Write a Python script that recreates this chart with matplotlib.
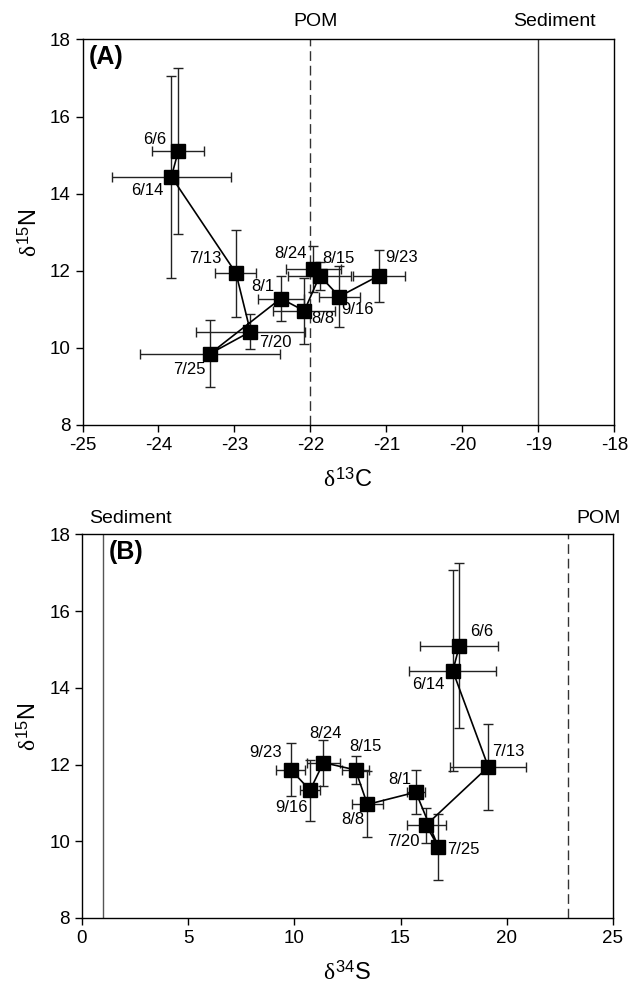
import matplotlib
matplotlib.use("Agg")
import matplotlib.pyplot as plt

plt.rcParams['font.family'] = ['Liberation Sans', 'DejaVu Sans']
plt.rcParams['mathtext.fontset'] = 'custom'
plt.rcParams['mathtext.rm'] = 'Liberation Sans'
plt.rcParams['mathtext.it'] = 'Liberation Serif'
plt.rcParams['axes.unicode_minus'] = False

# sampling dates
dates = ['6/6', '6/14', '7/13', '7/20', '7/25', '8/1', '8/8', '8/15', '8/24', '9/16', '9/23']

# isotope means and errors
d13c = [-23.74, -23.83, -22.98, -22.79, -23.32, -22.39, -22.08, -21.88, -21.96, -21.62, -21.10]
d13c_err = [0.34, 0.78, 0.27, 0.72, 0.92, 0.30, 0.41, 0.42, 0.36, 0.27, 0.34]
d15n = [15.10, 14.44, 11.94, 10.42, 9.85, 11.28, 10.96, 11.86, 12.05, 11.33, 11.87]
d15n_err = [2.15, 2.62, 1.13, 0.46, 0.87, 0.58, 0.86, 0.36, 0.60, 0.79, 0.68]
d34s = [17.77, 17.46, 19.13, 16.20, 16.78, 15.72, 13.44, 12.88, 11.37, 10.74, 9.83]
d34s_err = [1.84, 2.04, 1.79, 0.92, 0.20, 0.43, 0.74, 0.63, 0.78, 0.47, 0.67]

# end-member values
pom_c, sed_c = -22.0, -19.0
pom_s, sed_s = 22.9, 1.0

# label offsets in pixels (dx, dy)
offs_a = [(-24, 12), (-24, -14), (-31, 15), (25, -11), (-21, -16), (-18, 12),
          (18, -8), (19, 18), (-23, 15), (18, -13), (23, 18)]
offs_b = [(22, 14), (-25, -14), (20, 15), (-23, -16), (25, -2), (-16, 13),
          (-15, -15), (10, 23), (2, 29), (-19, -17), (-25, 17)]

fig = plt.figure(figsize=(6.3, 9.86), dpi=100)
axA = fig.add_axes([0.131, 0.569, 0.844, 0.391])
axB = fig.add_axes([0.130, 0.069, 0.843, 0.389])


def draw(ax, x, xerr, offs):
    ax.errorbar(x, d15n, xerr=xerr, yerr=d15n_err, fmt='none', ecolor='#222222',
                elinewidth=1.0, capsize=3.8, capthick=1.0, zorder=2)
    ax.plot(x, d15n, color='black', lw=1.2, marker='s', ms=9.5,
            mfc='black', mec='black', zorder=3)
    for xi, yi, lab, (dx, dy) in zip(x, d15n, dates, offs):
        ax.annotate(lab, (xi, yi), xytext=(dx, dy), textcoords='offset pixels',
                    ha='center', va='center', fontsize=12)
    ax.set_ylim(8, 18)
    ax.set_yticks([8, 10, 12, 14, 16, 18])
    ax.tick_params(labelsize=13.5, length=5, width=1, direction='out',
                   top=False, right=False)
    ax.set_ylabel(r'$\delta^{\mathrm{15}}$N', fontsize=17, labelpad=6)
    for s in ax.spines.values():
        s.set_linewidth(1.0)


# panel A
draw(axA, d13c, d13c_err, offs_a)
axA.set_xlim(-25, -18)
axA.set_xticks(range(-25, -17))
axA.axvline(pom_c, color='#333333', lw=1.0, ls=(0, (7, 3.5)), zorder=1)
axA.axvline(sed_c, color='#333333', lw=1.0, zorder=1)
axA.set_xlabel(r'$\delta^{\mathrm{13}}$C', fontsize=17, labelpad=10)
axA.annotate('POM', (pom_c, 1), xycoords=('data', 'axes fraction'), xytext=(5, 18),
             textcoords='offset pixels', ha='center', va='center', fontsize=14)
axA.annotate('Sediment', (sed_c, 1), xycoords=('data', 'axes fraction'), xytext=(16, 18),
             textcoords='offset pixels', ha='center', va='center', fontsize=14)
axA.text(0.012, 0.955, '(A)', transform=axA.transAxes, fontsize=18,
         fontweight='bold', ha='left', va='center')

# panel B
draw(axB, d34s, d34s_err, offs_b)
axB.set_xlim(0, 25)
axB.set_xticks([0, 5, 10, 15, 20, 25])
axB.axvline(pom_s, color='#333333', lw=1.0, ls=(0, (7, 3.5)), zorder=1)
axB.axvline(sed_s, color='#555555', lw=1.0, zorder=1)
axB.set_xlabel(r'$\delta^{\mathrm{34}}$S', fontsize=17, labelpad=10)
axB.annotate('POM', (pom_s, 1), xycoords=('data', 'axes fraction'), xytext=(30, 16),
             textcoords='offset pixels', ha='center', va='center', fontsize=14)
axB.annotate('Sediment', (sed_s, 1), xycoords=('data', 'axes fraction'), xytext=(27, 16),
             textcoords='offset pixels', ha='center', va='center', fontsize=14)
axB.text(0.05, 0.955, '(B)', transform=axB.transAxes, fontsize=18,
         fontweight='bold', ha='left', va='center')

fig.savefig('out.png', dpi=100)
